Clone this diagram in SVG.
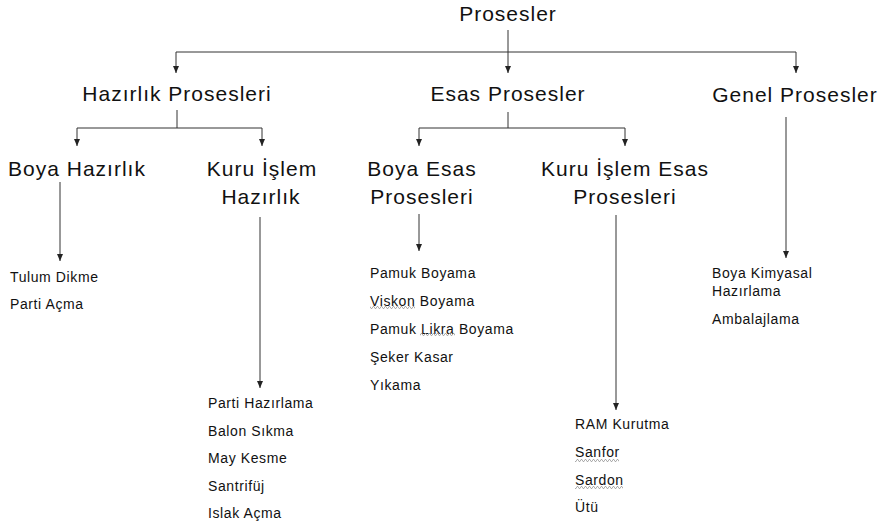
<svg xmlns="http://www.w3.org/2000/svg" width="891" height="528" viewBox="0 0 891 528">
<style>
.big{font-family:"Liberation Sans",Arial,sans-serif;font-size:21px;letter-spacing:1px;fill:#111;text-anchor:middle}
.sm{font-family:"Liberation Sans",Arial,sans-serif;font-size:14px;letter-spacing:0.6px;fill:#111}
.ln{fill:none;stroke:#333;stroke-width:1}
.ar{fill:none;stroke:#333;stroke-width:1;marker-end:url(#ah)}
.sq{fill:url(#wave)}
</style>
<defs>
<marker id="ah" viewBox="0 0 7 6" refX="7" refY="3" markerWidth="7" markerHeight="6" markerUnits="userSpaceOnUse" orient="auto">
<path d="M0,0 L7,3 L0,6 z" fill="#222"/>
</marker>
<pattern id="wave" width="4" height="3" patternUnits="userSpaceOnUse">
<path d="M0,2.5 L1,0.5 L2,0.5 L3,2.5 L4,2.5" fill="none" stroke="#999" stroke-width="0.8"/>
</pattern>
</defs>
<rect width="891" height="528" fill="#fff"/>
<g id="connectors">
<path class="ln" d="M508,30 V52"/>
<path class="ln" d="M176,52 H796"/>
<path class="ar" d="M176,52 V73"/>
<path class="ar" d="M508,52 V73"/>
<path class="ar" d="M796,52 V73"/>
<path class="ln" d="M177,110 V128"/>
<path class="ln" d="M77,128 H262"/>
<path class="ar" d="M77,128 V146"/>
<path class="ar" d="M262,128 V146"/>
<path class="ln" d="M508,112 V128"/>
<path class="ln" d="M419,128 H625"/>
<path class="ar" d="M419,128 V146"/>
<path class="ar" d="M625,128 V146"/>
<path class="ar" d="M786,117 V258"/>
<path class="ar" d="M60,182 V261"/>
<path class="ar" d="M260,217 V388"/>
<path class="ar" d="M419,214 V251"/>
<path class="ar" d="M616,215 V410"/>
</g>
<g id="n-prosesler"><text class="big" x="508" y="21">Prosesler</text></g>
<g id="n-hazirlik-prosesleri"><text class="big" x="177" y="101">Hazırlık Prosesleri</text></g>
<g id="n-esas-prosesler"><text class="big" x="508" y="101">Esas Prosesler</text></g>
<g id="n-genel-prosesler"><text class="big" x="795" y="102">Genel Prosesler</text></g>
<g id="n-boya-hazirlik"><text class="big" x="77" y="176">Boya Hazırlık</text></g>
<g id="n-kuru-islem-hazirlik"><text class="big" x="262" y="176">Kuru İşlem</text><text class="big" x="261" y="204">Hazırlık</text></g>
<g id="n-boya-esas"><text class="big" x="422" y="176">Boya Esas</text><text class="big" x="422" y="204">Prosesleri</text></g>
<g id="n-kuru-islem-esas"><text class="big" x="625" y="176">Kuru İşlem Esas</text><text class="big" x="625" y="204">Prosesleri</text></g>
<g id="l-boya-hazirlik">
<text class="sm" x="10" y="282">Tulum Dikme</text>
<text class="sm" x="10" y="309">Parti Açma</text>
</g>
<g id="l-kuru-islem-hazirlik">
<text class="sm" x="208" y="408">Parti Hazırlama</text>
<text class="sm" x="208" y="436">Balon Sıkma</text>
<text class="sm" x="208" y="463">May Kesme</text>
<text class="sm" x="208" y="491">Santrifüj</text>
<text class="sm" x="208" y="518">Islak Açma</text>
</g>
<g id="l-boya-esas">
<text class="sm" x="370" y="278">Pamuk Boyama</text>
<text class="sm" x="370" y="306">Viskon Boyama</text>
<text class="sm" x="370" y="334">Pamuk Likra Boyama</text>
<text class="sm" x="370" y="362">Şeker Kasar</text>
<text class="sm" x="370" y="390">Yıkama</text>
<rect class="sq" x="370" y="306" width="45" height="3"/>
<rect class="sq" x="420" y="333" width="35" height="3"/>
</g>
<g id="l-kuru-islem-esas">
<text class="sm" x="575" y="429">RAM Kurutma</text>
<text class="sm" x="575" y="457">Sanfor</text>
<text class="sm" x="575" y="485">Sardon</text>
<text class="sm" x="575" y="512">Ütü</text>
<rect class="sq" x="575" y="459" width="44" height="3"/>
<rect class="sq" x="575" y="486" width="48" height="3"/>
</g>
<g id="l-genel">
<text class="sm" x="712" y="278">Boya Kimyasal</text>
<text class="sm" x="712" y="296">Hazırlama</text>
<text class="sm" x="712" y="324">Ambalajlama</text>
</g>
</svg>
